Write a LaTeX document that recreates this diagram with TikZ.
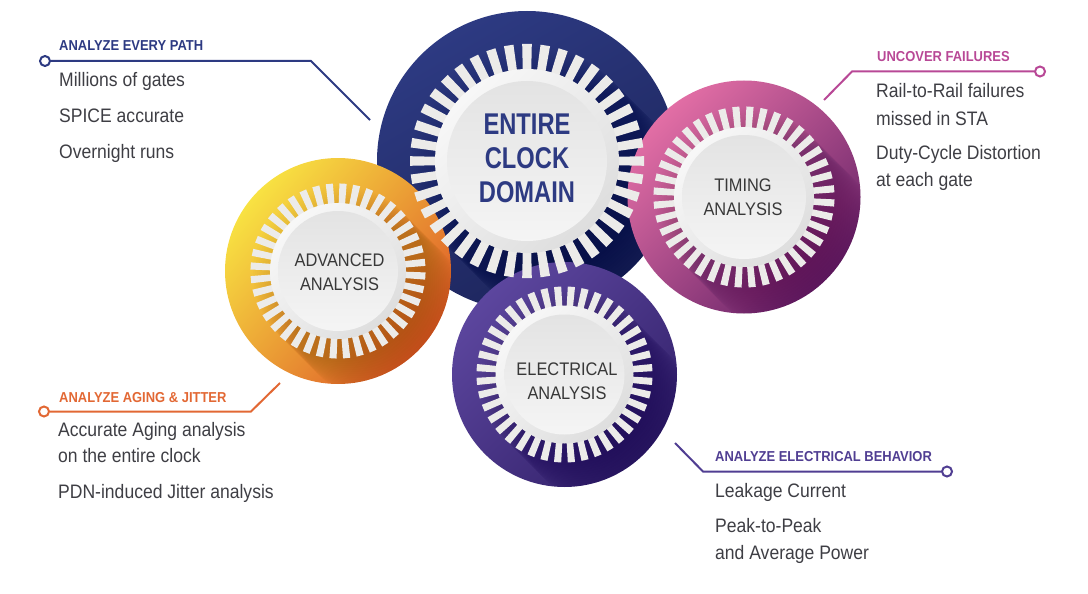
\documentclass[tikz,border=0pt]{standalone}
\usepackage{fontspec}
\setmainfont[FakeStretch=0.9]{Liberation Sans}
\newfontfamily\clockfont[FakeStretch=0.79]{Liberation Sans}
\definecolor{navy}{RGB}{45,58,130}
\definecolor{navydark}{RGB}{28,36,90}
\definecolor{pinkline}{RGB}{184,72,150}
\definecolor{pinktop}{RGB}{226,110,165}
\definecolor{pinkmid}{RGB}{178,74,140}
\definecolor{pinklow}{RGB}{105,36,105}
\definecolor{orangeline}{RGB}{226,104,52}
\definecolor{orangetop}{RGB}{248,226,66}
\definecolor{orangemid}{RGB}{240,150,50}
\definecolor{orangelow}{RGB}{222,90,40}
\definecolor{purpleline}{RGB}{80,62,146}
\definecolor{purpletop}{RGB}{92,70,158}
\definecolor{purplelow}{RGB}{52,34,108}
\definecolor{bodytext}{RGB}{62,62,68}
\definecolor{toothgray}{RGB}{236,235,233}
\tikzset{
	tooth/.style={fill=toothgray},
	ring/.style={top color=white!94!gray,bottom color=gray!26,shading angle=45},
	hub/.style={top color=gray!22,bottom color=gray!8},
	head/.style={anchor=base west,inner sep=0pt,font=\fontsize{14.4}{16}\bfseries},
	item/.style={anchor=base west,inner sep=0pt,font=\fontsize{19.5}{22}\selectfont,text=bodytext},
	hubtext/.style={align=center,font=\fontsize{18.2}{24}\selectfont,text=black!78},
	dot/.style={draw=#1,circle,fill=white,line width=2pt,inner sep=0pt,minimum size=10pt},
	leader/.style={draw=#1,line width=2pt}
}
% center, radius, tip radius
\newcommand{\DrawShadow}[3]{
	\begin{scope}
		\clip (#1) circle (#2);
		\foreach \s in {2,4,...,44}{
			\fill[black,opacity=0.006] ([shift={(\s,\s)}]#1) circle (#3);
		}
	\end{scope}
}
% center, tip radius, root radius, hub radius, angle offset, half tooth width at tip
\newcommand{\DrawGear}[6]{
	\foreach \a in {0,9,...,351}{
		\path[tooth,shift={(#1)},rotate=-\a-#5] (#3-2,{-0.88*#6}) -- (#2,-#6) -- (#2,#6) -- (#3-2,{0.88*#6}) -- cycle;
	}
	\shade[ring] (#1) circle (#3);
	\shade[hub] (#1) circle (#4);
}
\begin{document}
\begin{tikzpicture}[x=1pt,y=-1pt]
	\useasboundingbox (0,0) rectangle (1088,594);
	\coordinate (c_clock) at (527,161);
	\coordinate (c_advanced) at (338,271);
	\coordinate (c_timing) at (744,197);
	\coordinate (c_electrical) at (564.5,374.5);
	\coordinate (path_corner) at (311,61);
	\coordinate (path_end) at (370,120);
	\coordinate (fail_corner) at (852,71.5);
	\coordinate (fail_end) at (824,100);
	\coordinate (aging_corner) at (251,411.5);
	\coordinate (aging_end) at (280,383);
	\coordinate (elec_corner) at (703,471.5);
	\coordinate (elec_end) at (675,443);

	\shade[top color=navy,middle color=navy,bottom color=navydark,shading angle=30] (c_clock) circle (150);
	\DrawShadow{c_clock}{150}{117}
	\shade[top color=orangetop,middle color=orangemid,bottom color=orangelow,shading angle=50] (c_advanced) circle (113);
	\DrawShadow{c_advanced}{113}{87}
	\shade[top color=pinktop,middle color=pinkmid,bottom color=pinklow,shading angle=45] (c_timing) circle (116.5);
	\DrawShadow{c_timing}{116.5}{90.5}
	\shade[top color=purpletop,middle color=purpleline,bottom color=purplelow,shading angle=45] (c_electrical) circle (112.5);
	\DrawShadow{c_electrical}{112.5}{88}

	\DrawGear{c_advanced}{87.5}{68}{60}{3.3}{3.6}
	\DrawGear{c_timing}{90.5}{70}{62}{3.8}{3.6}
	\DrawGear{c_electrical}{88}{69}{60}{4.5}{3.6}
	\DrawGear{c_clock}{117}{92}{80}{0}{4.8}

	\node[align=center,text=navy,font=\clockfont\fontsize{30}{34}\bfseries] (clock_label) at ([yshift=3pt]c_clock) {ENTIRE\\CLOCK\\DOMAIN};
	\node[hubtext] (advanced_label) at ([xshift=1.5pt,yshift=-1pt]c_advanced) {ADVANCED\\ANALYSIS};
	\node[hubtext] (timing_label) at ([xshift=-1pt]c_timing) {TIMING\\ANALYSIS};
	\node[hubtext] (electrical_label) at ([xshift=2.5pt,yshift=-6.5pt]c_electrical) {ELECTRICAL\\ANALYSIS};

	\node[dot=navy] (path_dot) at (45,61) {};
	\draw[leader=navy] (path_dot) -- (path_corner) -- (path_end);
	\node[head,text=navy] (path_head) at (59,51) {ANALYZE EVERY PATH};
	\node[item] (path_a) at (59,87) {Millions of gates};
	\node[item] (path_b) at (59,122) {SPICE accurate};
	\node[item] (path_c) at (59,158) {Overnight runs};

	\node[dot=pinkline] (fail_dot) at (1040,71.5) {};
	\draw[leader=pinkline] (fail_dot) -- (fail_corner) -- (fail_end);
	\node[head,text=pinkline] (fail_head) at (877,62) {UNCOVER FAILURES};
	\node[item] (fail_a) at (876,98) {Rail-to-Rail failures};
	\node[item] (fail_b) at (876,125) {missed in STA};
	\node[item] (fail_c) at (876,159) {Duty-Cycle Distortion};
	\node[item] (fail_d) at (876,186) {at each gate};

	\node[dot=orangeline] (aging_dot) at (44,411.5) {};
	\draw[leader=orangeline] (aging_dot) -- (aging_corner) -- (aging_end);
	\node[head,text=orangeline] (aging_head) at (59,402) {ANALYZE AGING \& JITTER};
	\node[item] (aging_a) at (58,436) {Accurate Aging analysis};
	\node[item] (aging_b) at (58,462) {on the entire clock};
	\node[item] (aging_c) at (58,498) {PDN-induced Jitter analysis};

	\node[dot=purpleline] (elec_dot) at (947,471.5) {};
	\draw[leader=purpleline] (elec_dot) -- (elec_corner) -- (elec_end);
	\node[head,text=purpleline] (elec_head) at (715,461) {ANALYZE ELECTRICAL BEHAVIOR};
	\node[item] (elec_a) at (715,497) {Leakage Current};
	\node[item] (elec_b) at (715,532) {Peak-to-Peak};
	\node[item] (elec_c) at (715,559) {and Average Power};
\end{tikzpicture}
\end{document}
